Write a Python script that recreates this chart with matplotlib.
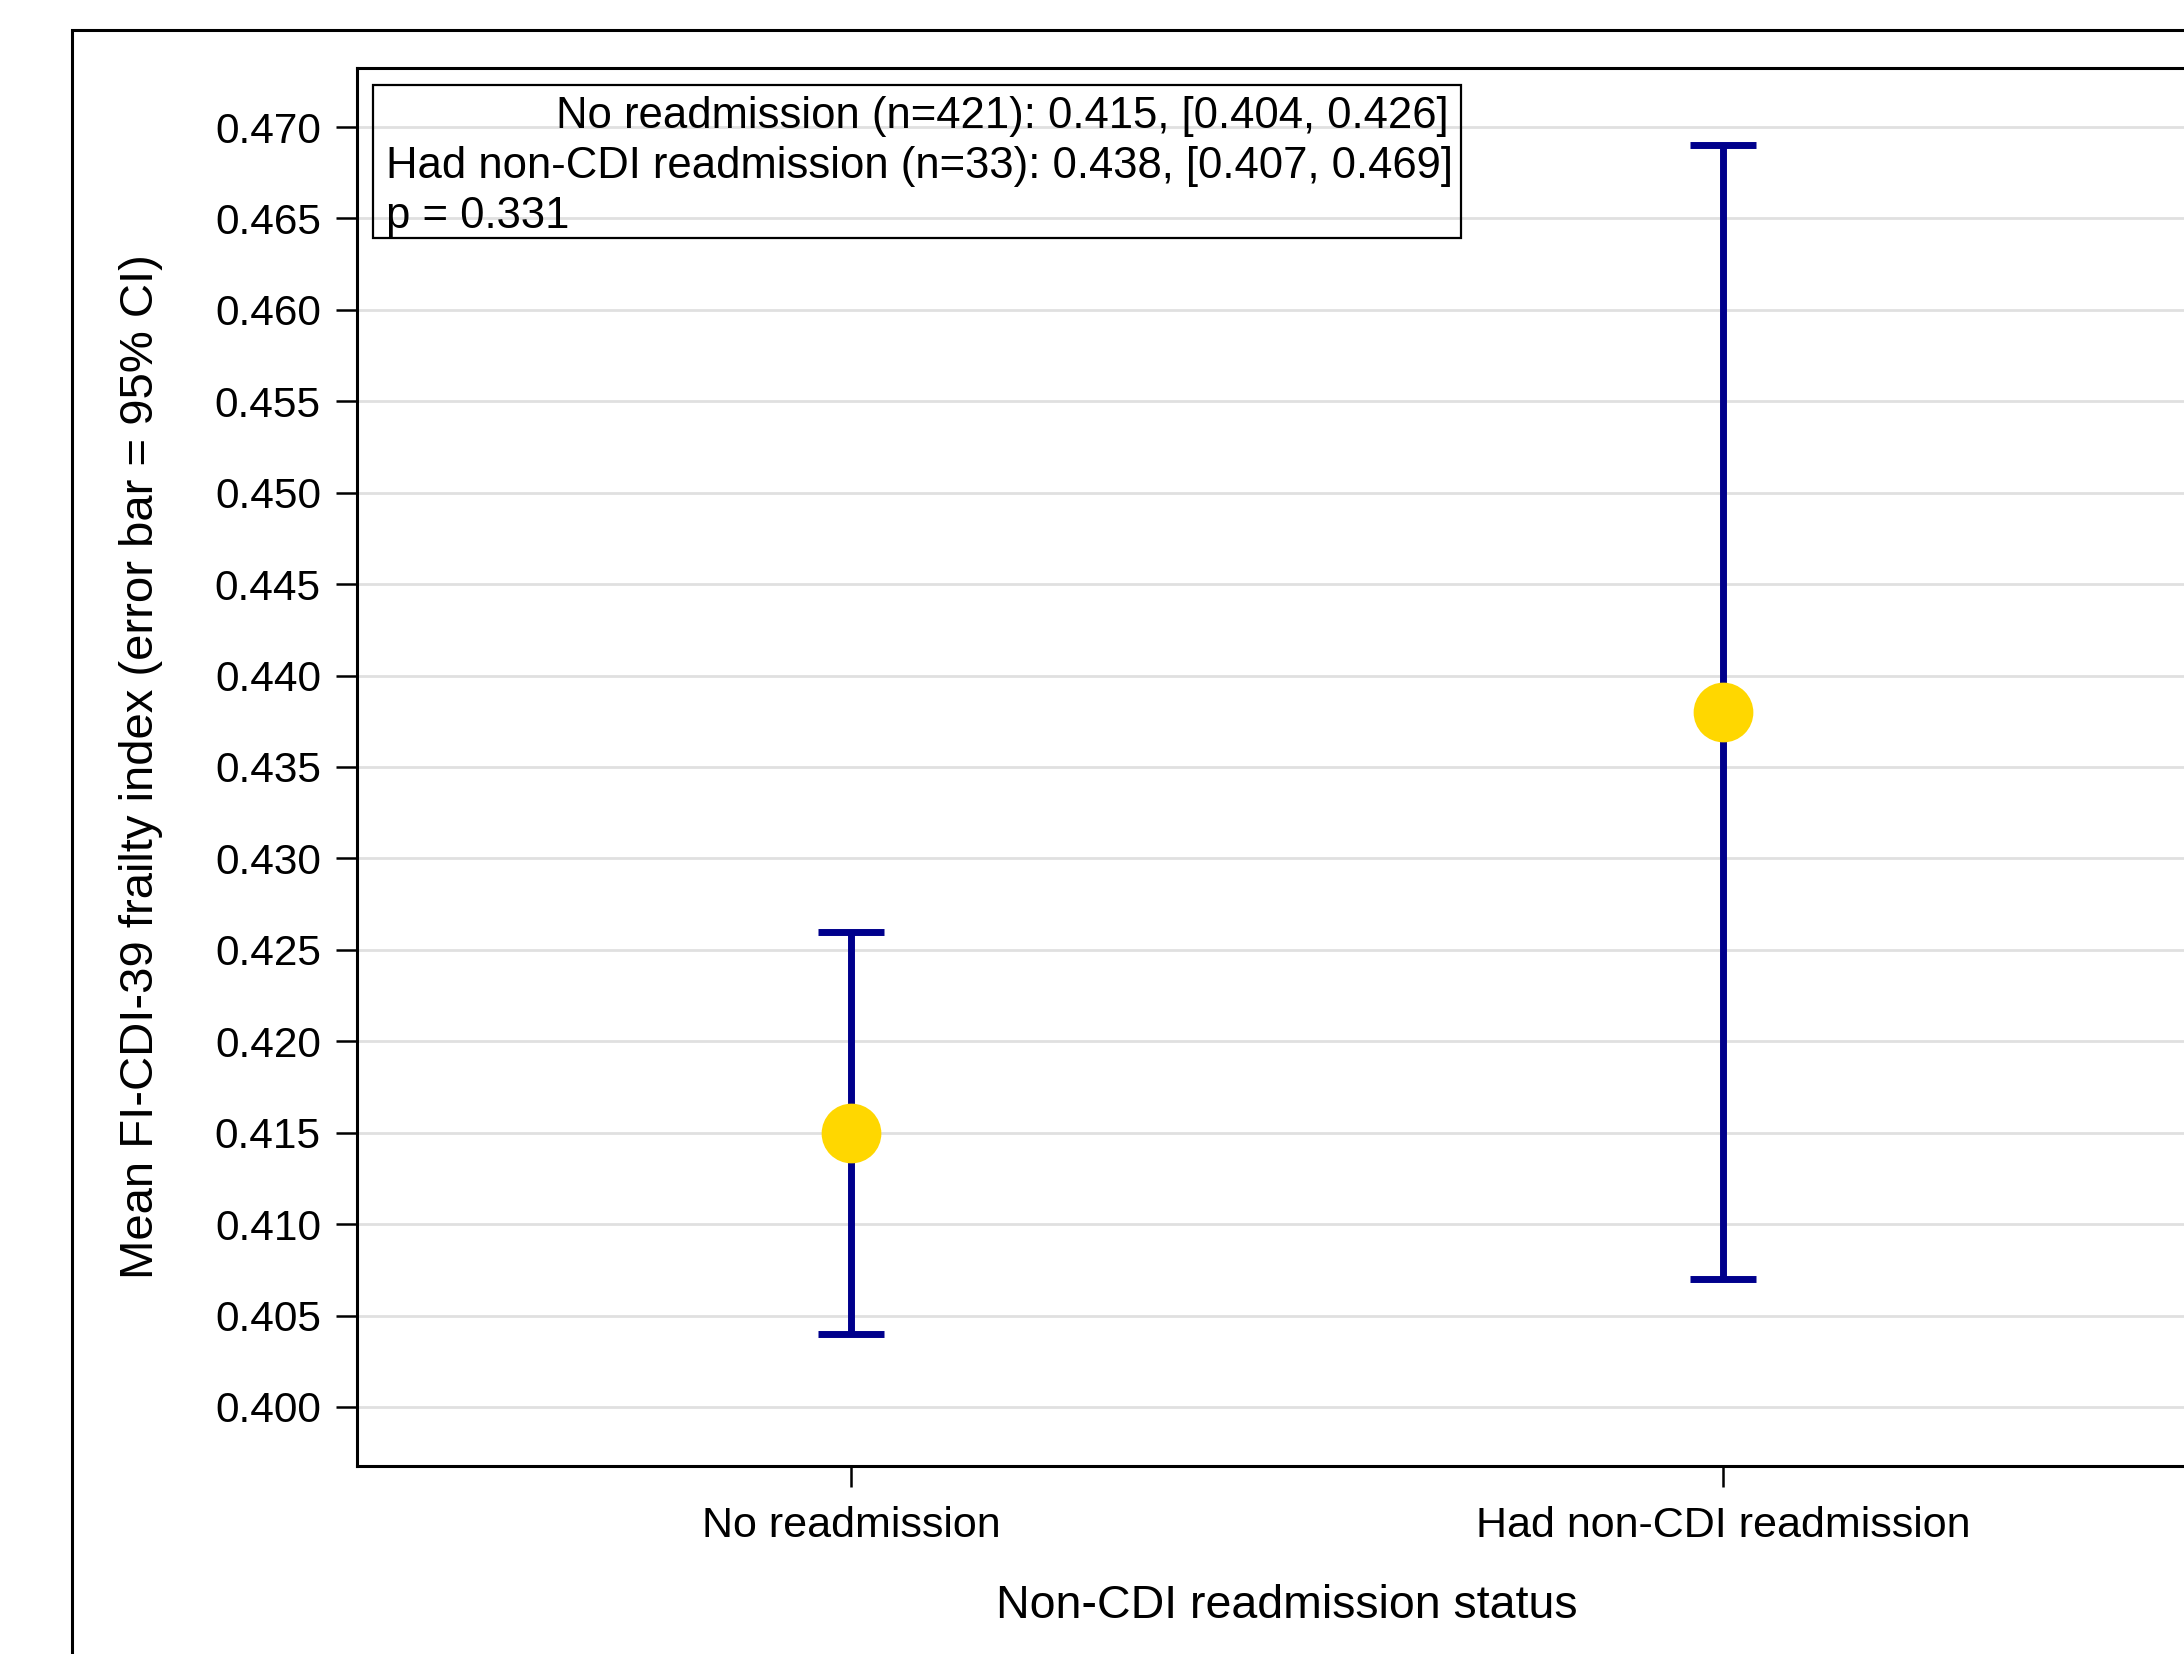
import matplotlib
matplotlib.use('Agg')
import matplotlib.pyplot as plt
from matplotlib.patches import Rectangle

plt.rcParams['font.family'] = ['Liberation Sans', 'DejaVu Sans']

# Data
groups = ['No readmission', 'Had non-CDI readmission']
means = [0.415, 0.438]
ci_low = [0.404, 0.407]
ci_high = [0.426, 0.469]
counts = [421, 33]
p_value = 0.331
yticks = [0.400, 0.405, 0.410, 0.415, 0.420, 0.425, 0.430, 0.435,
          0.440, 0.445, 0.450, 0.455, 0.460, 0.465, 0.470]

W, H = 2184, 1654
fig = plt.figure(figsize=(W / 100, H / 100), dpi=100)

# axes runs off the right edge, like the source image
ax = fig.add_axes([357 / W, 1 - 1466 / H, (2217 - 357) / W, (1466 - 68) / H])

x = list(range(len(groups)))
yerr = [[m - lo for m, lo in zip(means, ci_low)],
        [hi - m for m, hi in zip(means, ci_high)]]
ax.errorbar(x, means, yerr=yerr, fmt='none', ecolor='#00008C',
            elinewidth=5, capsize=24, capthick=5, zorder=3)
ax.plot(x, means, 'o', color='#FFD700', markersize=43, markeredgewidth=0, zorder=4)

ax.set_xlim(-0.5665, 1.5665)
ax.set_ylim(0.39677, 0.47323)
ax.set_xticks(x)
ax.set_xticklabels(groups, fontsize=31)
ax.set_yticks(yticks)
ax.set_yticklabels([f'{v:.3f}' for v in yticks], fontsize=30.5)
ax.tick_params(axis='both', length=15, width=1.8, direction='out')
ax.tick_params(axis='y', pad=11)
ax.tick_params(axis='x', pad=14)
ax.yaxis.grid(True, color='#e0e0e0', linewidth=2, zorder=0)
ax.set_axisbelow(True)
for s in ax.spines.values():
    s.set_linewidth(2.2)

ax.set_xlabel('Non-CDI readmission status', fontsize=33.5, va='baseline')
ax.xaxis.set_label_coords(0.5, (1466 - 1618) / 1398)
ax.set_ylabel('Mean FI-CDI-39 frailty index (error bar = 95% CI)', fontsize=34, va='baseline')
ax.yaxis.set_label_coords((153 - 357) / 1860, 0.5)

# outer frame (cut off at right and bottom)
fig.patches.append(Rectangle((72 / W, -0.1), 2, 1.1 - 30 / H, fill=False,
                             edgecolor='black', linewidth=2.2,
                             transform=fig.transFigure, figure=fig))

# inset statistics box (transparent, grid shows through)
fig.patches.append(Rectangle((373 / W, 1 - 238 / H), (1461 - 373) / W, (238 - 85) / H,
                             fill=False, edgecolor='black',
                             linewidth=1.6, transform=fig.transFigure, figure=fig,
                             zorder=5))
line1 = f'{groups[0]} (n={counts[0]}): {means[0]:.3f}, [{ci_low[0]:.3f}, {ci_high[0]:.3f}]'
line2 = f'{groups[1]} (n={counts[1]}): {means[1]:.3f}, [{ci_low[1]:.3f}, {ci_high[1]:.3f}]'
line3 = f'p = {p_value:.3f}'
fig.text(1449 / W, 1 - 128 / H, line1, ha='right', va='baseline', fontsize=31.4, zorder=6)
fig.text(386 / W, 1 - 178 / H, line2, ha='left', va='baseline', fontsize=31.4, zorder=6)
fig.text(386 / W, 1 - 228 / H, line3, ha='left', va='baseline', fontsize=31.4, zorder=6)

fig.savefig('out.png', dpi=100)
